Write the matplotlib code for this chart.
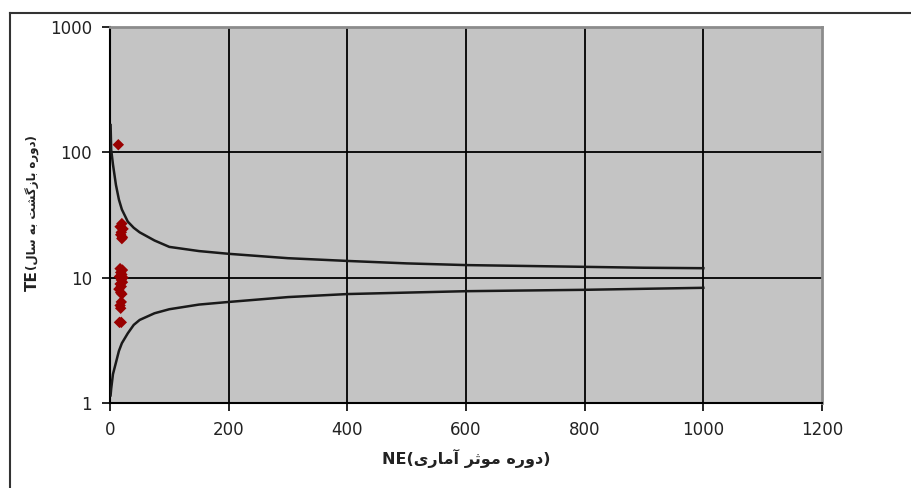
import matplotlib
matplotlib.use("Agg")
import matplotlib.pyplot as plt
from matplotlib.lines import Line2D

# ---- data ----
curve_n = [1, 2, 5, 10, 15, 20, 30, 40, 50, 75, 100, 150, 200, 300, 400, 500, 600, 700, 800, 900, 1000]
upper_te = [165, 105, 80, 55, 42, 35, 28, 25, 23, 19.8, 17.6, 16.3, 15.5, 14.3, 13.6, 13.0, 12.6, 12.4, 12.2, 12.0, 11.9]
lower_te = [1.15, 1.3, 1.7, 2.1, 2.6, 3.0, 3.6, 4.2, 4.6, 5.2, 5.6, 6.1, 6.4, 7.0, 7.4, 7.6, 7.8, 7.9, 8.0, 8.15, 8.3]

obs_n = [14, 20, 17, 22, 19, 18, 21, 20, 17, 21, 18, 20, 16, 22, 19, 21, 17, 19, 15, 18, 20, 19, 17, 18, 16, 19]
obs_te = [115, 27, 25.5, 24.5, 23, 22, 21, 20.5, 11.8, 11.5, 11, 10.6, 10.2, 10, 9.6, 9.2, 8.9, 8.5, 8.1, 7.6, 7.4, 6.4, 6.0, 5.7, 4.4, 4.4]

x_ticks = [0, 200, 400, 600, 800, 1000, 1200]
y_ticks = [1, 10, 100, 1000]
y_tick_labels = ["1", "10", "100", "1000"]

# Persian labels (presentation forms, visual order)
xlabel_fa = "\uFBFC\uFEAD\uFE8E\uFEE3\uFE81 \uFEAE\uFE9B\uFEEE\uFEE3 \uFEE9\uFEAD\uFEED\uFEA9"
ylabel_fa = "\uFEDD\uFE8E\uFEB3 \uFEEA\uFE91 \uFE96\uFEB8\uFB94\uFEAF\uFE8E\uFE91 \uFEE9\uFEAD\uFEED\uFEA9"
xlabel_text = "NE(" + xlabel_fa + ")"
ylabel_head = "TE"
ylabel_tail = "(" + ylabel_fa + ")"

fam = ["DejaVu Sans"]

fig = plt.figure(figsize=(9.11, 4.88), dpi=100)
fig.patch.set_facecolor("white")
ax = fig.add_axes([110/911, 1-403/488, (822-110)/911, (403-27)/488])
ax.set_facecolor("#c4c4c4")

ax.set_yscale("log")
ax.set_xlim(0, 1200)
ax.set_ylim(1, 1000)

for xv in x_ticks[1:-1]:
    ax.axvline(xv, color="black", lw=1.3, zorder=1)
for yv in [10, 100]:
    ax.axhline(yv, color="black", lw=1.3, zorder=1)

ax.plot(curve_n, upper_te, color="#1a1a1a", lw=1.8, zorder=3)
ax.plot(curve_n, lower_te, color="#1a1a1a", lw=1.8, zorder=3)
ax.scatter(obs_n, obs_te, s=34, marker="D", color="#990000", edgecolors="none", zorder=4)

ax.set_xticks(x_ticks)
ax.set_xticklabels([str(v) for v in x_ticks], family=fam, fontsize=12)
ax.set_yticks(y_ticks)
ax.set_yticklabels(y_tick_labels, family=fam, fontsize=12)
ax.minorticks_off()
ax.yaxis.set_minor_locator(matplotlib.ticker.NullLocator())
ax.tick_params(axis="both", direction="out", length=6, width=1.2, color="black", pad=7, labelcolor="#222222")

for s in ["left", "bottom"]:
    ax.spines[s].set_color("black")
    ax.spines[s].set_linewidth(1.5)
for s in ["top", "right"]:
    ax.spines[s].set_color("#8c8c8c")
    ax.spines[s].set_linewidth(2)

ax.set_xlabel(xlabel_text, family=fam, fontsize=11.5, fontweight="bold", labelpad=7, color="#222222")

# y label: "TE" larger, Persian part smaller
fig.text(32/911, 1-291/488, ylabel_head, rotation=90, ha="center", va="bottom",
         family=fam, fontsize=11, fontweight="bold", color="#222222")
fig.text(33/911, 1-270.5/488, ylabel_tail, rotation=90, ha="center", va="bottom",
         family=fam, fontsize=8.5, fontweight="bold", color="#222222")

# outer frame
fig.add_artist(Line2D([10/911, 1.0], [1-13/488, 1-13/488], transform=fig.transFigure, color="#333333", lw=1.5))
fig.add_artist(Line2D([10/911, 10/911], [0, 1-13/488], transform=fig.transFigure, color="#333333", lw=1.5))

fig.savefig("out.png", dpi=100)
